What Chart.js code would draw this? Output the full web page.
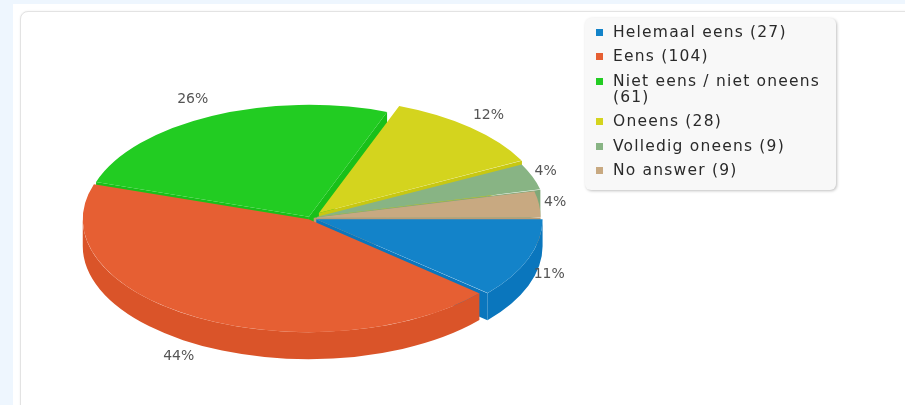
<!DOCTYPE html>
<html>
<head>
<meta charset="utf-8">
<script src="https://cdn.jsdelivr.net/npm/chart.js@4/dist/chart.umd.min.js"></script>
<style>
body { margin: 0; width: 905px; height: 405px; overflow: hidden; background: #eef6fe; font-family: "DejaVu Sans", sans-serif; }
#sheet { position: absolute; left: 13px; top: 4px; right: 0; bottom: 0; background: #fff; }
#panel { position: absolute; left: 20px; top: 11px; width: 1000px; height: 500px; border: 1px solid #e3e3e3; border-radius: 8px; box-shadow: 0 0 2px rgba(0,0,0,0.08); background: #fff; }
#chart { position: absolute; left: 0; top: 0; }
#legend { position: absolute; left: 585px; top: 18px; width: 251px; height: 172px; box-sizing: border-box; padding: 6px 0 0 11px; background: #f8f8f8; border-radius: 6px; box-shadow: 1px 1px 3px rgba(0,0,0,0.25); }
.item { display: flex; align-items: flex-start; margin-bottom: 8.4px; font-size: 15.5px; line-height: 16px; letter-spacing: 1.2px; color: #2a2a2a; }
.item .box { width: 7px; height: 7px; margin-top: 5px; flex: none; }
.item .txt { margin-left: 10px; width: 214px; }
</style>
</head>
<body>
<div id="sheet"></div>
<div id="panel"></div>
<canvas id="chart" width="905" height="405"></canvas>
<div id="legend"></div>
<script>
// antwoorden
const labels = ['Helemaal eens', 'Eens', 'Niet eens / niet oneens', 'Oneens', 'Volledig oneens', 'No answer'];
const counts = [27, 104, 61, 28, 9, 9];
const topColors = ['#1383c9', '#e65f33', '#22cc22', '#d4d41e', '#88b484', '#c8a981'];
const sideColors = ['#0a76bd', '#da5429', '#19c019', '#c8c812', '#7ea878', '#bb9c75'];
const explode = [16, 7, 6, 32, 18, 9]; // chart.js offset (arc moves offset/4)

const RX = 224, RY = 112, DEPTH = 27, GX = 8, GY = 18;
const total = counts.reduce((a, b) => a + b, 0);

// legenda
const legend = document.getElementById('legend');
labels.forEach((l, i) => {
    const row = document.createElement('div');
    row.className = 'item';
    row.innerHTML = `<span class="box" style="background:${topColors[i]}"></span><span class="txt">${l} (${counts[i]})</span>`;
    legend.appendChild(row);
});

function mid(a) { return (a.startAngle + a.endAngle) / 2; }

// 3D effect: squash the pie and draw the walls under it
const pie3d = {
    id: 'pie3d',
    beforeDatasetsDraw(chart) {
        const ctx = chart.ctx;
        const arcs = chart.getDatasetMeta(0).data;
        const cx = arcs[0].x, cy = arcs[0].y, R = arcs[0].outerRadius;
        const sx = RX / R, sy = RY / R, d = DEPTH / sy;
        ctx.save();
        ctx.translate(cx, cy);
        ctx.scale(sx, sy);
        ctx.translate(-cx, -cy);

        const order = arcs.map((a, i) => i).sort((i, j) => Math.sin(mid(arcs[i])) - Math.sin(mid(arcs[j])));
        for (const i of order) {
            const a = arcs[i];
            const m = mid(a);
            const t = explode[i] / 4;
            const fix = 1 - Math.sin(Math.min(Math.PI, a.circumference));
            const r = a.outerRadius + t * fix;
            const x = a.x + Math.cos(m) * t, y = a.y + Math.sin(m) * t;
            ctx.fillStyle = sideColors[i];

            // zijvlakken
            [[a.startAngle, Math.cos(a.startAngle) < 0], [a.endAngle, Math.cos(a.endAngle) > 0]].forEach(([ang, vis]) => {
                if (!vis) return;
                const ex = x + Math.cos(ang) * r, ey = y + Math.sin(ang) * r;
                ctx.beginPath();
                ctx.moveTo(x, y);
                ctx.lineTo(ex, ey);
                ctx.lineTo(ex, ey + d);
                ctx.lineTo(x, y + d);
                ctx.closePath();
                ctx.fill();
            });

            // buitenwand (only the front half is visible)
            for (const base of [0, 2 * Math.PI]) {
                const s = Math.max(a.startAngle, base), e = Math.min(a.endAngle, base + Math.PI);
                if (e <= s) continue;
                ctx.beginPath();
                ctx.arc(x, y, r, s, e);
                ctx.lineTo(x + Math.cos(e) * r, y + Math.sin(e) * r + d);
                ctx.arc(x, y + d, r, e, s, true);
                ctx.closePath();
                ctx.fill();
            }
        }
    },
    afterDatasetsDraw(chart) {
        const ctx = chart.ctx;
        ctx.restore();
        const arcs = chart.getDatasetMeta(0).data;
        const cx = arcs[0].x, cy = arcs[0].y, R = arcs[0].outerRadius;
        const sx = RX / R, sy = RY / R;
        ctx.save();
        ctx.font = '14px "DejaVu Sans"';
        ctx.fillStyle = '#555';
        ctx.textBaseline = 'middle';
        arcs.forEach((a, i) => {
            const m = mid(a);
            const c = Math.cos(m), s = Math.sin(m);
            const t = explode[i] / 4;
            const px = cx + c * t * sx + c * (RX + GX);
            const py = cy + s * t * sy + s * (RY + GY) + Math.max(0, s) * DEPTH;
            ctx.textAlign = c > 0.2 ? 'left' : (c < -0.2 ? 'right' : 'center');
            ctx.fillText(Math.round(counts[i] / total * 100) + '%', px, py);
        });
        ctx.restore();
    }
};

new Chart(document.getElementById('chart'), {
    type: 'pie',
    data: {
        labels: labels,
        datasets: [{
            data: counts,
            backgroundColor: topColors,
            borderWidth: 0,
            offset: explode,
            clip: false
        }]
    },
    options: {
        responsive: false,
        animation: false,
        rotation: 90,
        events: [],
        layout: { padding: { left: 160, right: 445, top: 68, bottom: 37 } },
        plugins: { legend: { display: false }, tooltip: { enabled: false } }
    },
    plugins: [pie3d]
});
</script>
</body>
</html>
